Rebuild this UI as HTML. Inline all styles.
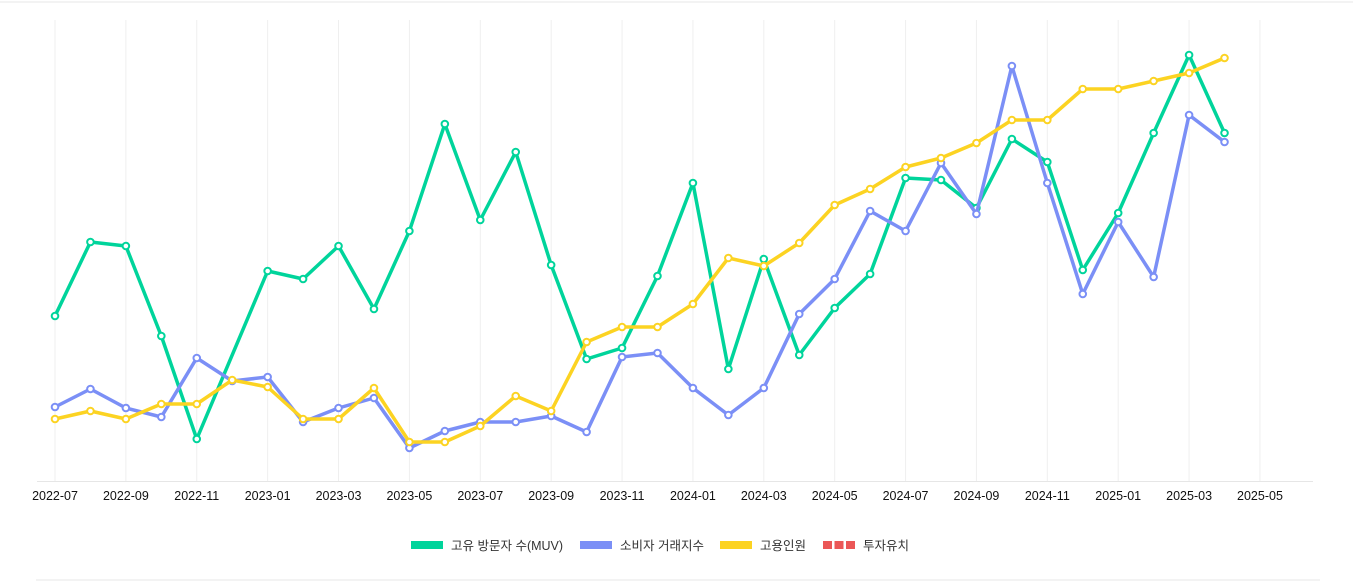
<!DOCTYPE html>
<html><head><meta charset="utf-8"><style>
html,body{margin:0;padding:0;background:#fff;width:1353px;height:583px;overflow:hidden;font-family:"Liberation Sans","Noto Sans CJK KR",sans-serif;}
</style></head><body>
<svg id="chart" width="1353" height="583" xmlns="http://www.w3.org/2000/svg">
<line x1="0" y1="2" x2="1353" y2="2" stroke="#f3f3f3" stroke-width="2"/>
<line x1="36" y1="580" x2="1320" y2="580" stroke="#f3f3f3" stroke-width="2"/>
<g id="grid"></g><g id="axis"></g><g id="series"></g><g id="legend"></g>
</svg>
<script>
const months=["2022-07","2022-08","2022-09","2022-10","2022-11","2022-12","2023-01","2023-02","2023-03","2023-04","2023-05","2023-06","2023-07","2023-08","2023-09","2023-10","2023-11","2023-12","2024-01","2024-02","2024-03","2024-04","2024-05","2024-06","2024-07","2024-08","2024-09","2024-10","2024-11","2024-12","2025-01","2025-02","2025-03","2025-04"];
const tickLabels=["2022-07","2022-09","2022-11","2023-01","2023-03","2023-05","2023-07","2023-09","2023-11","2024-01","2024-03","2024-05","2024-07","2024-09","2024-11","2025-01","2025-03","2025-05"];
const muv=[165,239,235,145,42,null,210,202,235,172,250,357,261,329,216,122,133,205,298,112,222,126,173,207,303,301,273,342,319,211,268,348,426,348];
const consumer=[74,92,73,64,123,100,104,59,73,83,33,50,59,59,65,49,124,128,93,66,93,167,202,270,250,318,267,415,298,187,259,204,366,339];
const employment=[62,70,62,77,77,101,94,62,62,93,39,39,55,85,70,139,154,154,177,223,215,238,276,292,314,323,338,361,361,392,392,400,408,423];
const seriesNames=["고유 방문자 수(MUV)","소비자 거래지수","고용인원","투자유치"];
const ns="http://www.w3.org/2000/svg";
const x0=55,dx=35.44,yb=481;
function xAt(i){return x0+i*dx;}
function xOf(m){const [y,mm]=m.split("-").map(Number);return xAt((y-2022)*12+(mm-7));}
function yOf(v){return yb-v;}
function mk(t,a,p){const e=document.createElementNS(ns,t);for(const k in a)e.setAttribute(k,a[k]);p.appendChild(e);return e;}
const grid=document.getElementById("grid"),axis=document.getElementById("axis");
tickLabels.forEach(t=>{
 const g=mk("line",{x1:xOf(t),x2:xOf(t),y1:20,y2:481,stroke:"#efefef","stroke-width":1},grid);
 
 
 const tx=mk("text",{x:xOf(t),y:500,"text-anchor":"middle","font-size":"12.5",fill:"#111"},axis);
 tx.textContent=t;
 
 
});
const ax=mk("line",{x1:37,x2:1313,y1:481.5,y2:481.5,stroke:"#e6e6e6","stroke-width":1},axis);


const sg=document.getElementById("series");
function draw(vals,color,name){
 const pts=[];vals.forEach((v,i)=>{if(v!==null)pts.push([xAt(i),yOf(v)]);});
 const p=mk("polyline",{points:pts.map(p=>p.join(",")).join(" "),fill:"none",stroke:color,"stroke-width":3.5,"stroke-linejoin":"round"},sg);
 
 
 pts.forEach(q=>{const c=mk("circle",{cx:q[0],cy:q[1],r:3.3,fill:"#fff",stroke:color,"stroke-width":2},sg);
 
 });
}
draw(muv,"#00d49b","muv");
draw(consumer,"#7b8ff6","consumer-index");
draw(employment,"#fcd322","employment");
const lg=document.getElementById("legend");
const items=[[411,451,"#00d49b",false],[580,620,"#7b8ff6",false],[720,760,"#fcd322",false],[823,863,"#eb5757",true]];
items.forEach((it,i)=>{
 const g=mk("g",{},lg);
 
 
 if(it[3]){[0,11.5,23].forEach(o=>mk("rect",{x:it[0]+o,y:541,width:9,height:8,fill:it[2]},g));}
 else mk("rect",{x:it[0],y:541,width:32,height:8,fill:it[2]},g);
 const t=mk("text",{x:it[1],y:550,"font-size":"12.5",fill:"#333"},g);t.textContent=seriesNames[i];
});
</script>
</body></html>
